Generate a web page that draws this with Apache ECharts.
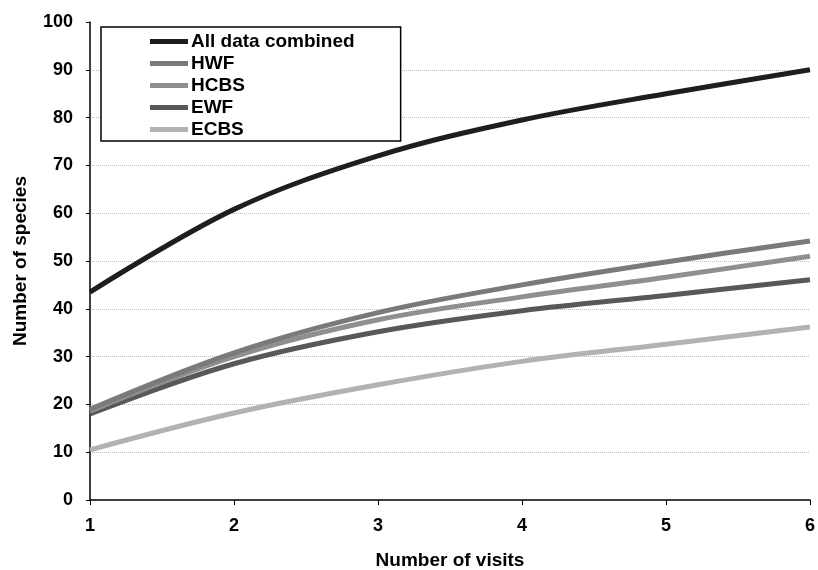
<!DOCTYPE html>
<html>
<head>
<meta charset="utf-8">
<script src="https://cdn.jsdelivr.net/npm/echarts@6/dist/echarts.min.js"></script>
<style>html,body{margin:0;padding:0;background:#fff}#c{width:818px;height:570px}</style>
</head>
<body>
<div id="c"></div>
<script>
var visits = [1, 2, 3, 4, 5, 6];
var allData = [43.5, 60.8, 72, 79.5, 85, 90];
var hwf = [19, 30.8, 39.2, 45, 49.8, 54.2];
var hcbs = [18.6, 30, 37.7, 42.5, 46.6, 51];
var ewf = [18, 28.5, 35.2, 39.6, 42.8, 46.1];
var ecbs = [10.5, 18.2, 24.1, 29, 32.6, 36.2];
var seriesNames = ['All data combined', 'HWF', 'HCBS', 'EWF', 'ECBS'];
var seriesColors = ['#1e1e1e', '#7a7a7a', '#8f8f8f', '#585858', '#b2b2b2'];
var seriesValues = [allData, hwf, hcbs, ewf, ecbs];

var chart = echarts.init(document.getElementById('c'));
var font = 'Liberation Sans, Arial, sans-serif';
var series = seriesNames.map(function (n, i) {
  return {
    name: n,
    type: 'line',
    smooth: 0.35,
    symbol: 'none',
    data: visits.map(function (v, j) { return [v, seriesValues[i][j]]; }),
    lineStyle: { color: seriesColors[i], width: 5 },
    itemStyle: { color: seriesColors[i] },
    z: 10 - i
  };
});
chart.setOption({
  animation: false,
  backgroundColor: '#fff',
  grid: { left: 90, right: 8, top: 22, bottom: 70, containLabel: false, outerBoundsMode: 'none' },
  legend: {
    orient: 'vertical',
    left: 101,
    top: 27,
    data: seriesNames,
    icon: 'rect',
    itemWidth: 38,
    itemHeight: 5,
    itemGap: 3,
    padding: [5, 46, 2, 49],
    borderColor: '#000',
    borderWidth: 1.5,
    backgroundColor: '#fff',
    textStyle: { fontFamily: font, fontWeight: 'bold', fontSize: 19, color: '#000', padding: [0, 0, 0, -2] }
  },
  xAxis: {
    type: 'value',
    min: 1, max: 6, interval: 1,
    name: 'Number of visits',
    nameLocation: 'middle',
    nameGap: 51,
    nameTextStyle: { fontFamily: font, fontWeight: 'bold', fontSize: 19, color: '#000' },
    axisLine: { lineStyle: { color: '#000', width: 1.5 } },
    axisTick: { show: true, length: 5, lineStyle: { color: '#000' } },
    axisLabel: { fontFamily: font, fontWeight: 'bold', fontSize: 18, color: '#000', margin: 17 },
    splitLine: { show: false }
  },
  yAxis: {
    type: 'value',
    min: 0, max: 100, interval: 10,
    name: 'Number of species',
    nameLocation: 'middle',
    nameGap: 60,
    nameTextStyle: { fontFamily: font, fontWeight: 'bold', fontSize: 19, color: '#000' },
    axisLine: { show: true, lineStyle: { color: '#000', width: 1.5 } },
    axisTick: { show: true, length: 4, lineStyle: { color: '#000' } },
    axisLabel: { fontFamily: font, fontWeight: 'bold', fontSize: 18, color: '#000', margin: 17 },
    splitLine: { show: true, showMinLine: false, showMaxLine: false, lineStyle: { color: '#bbb', type: 'dotted', width: 1 } }
  },
  series: series
});
</script>
</body>
</html>
